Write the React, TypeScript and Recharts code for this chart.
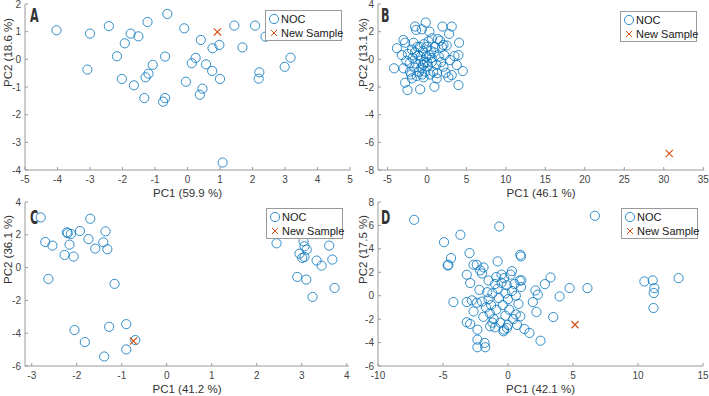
import { ScatterChart, Scatter, XAxis, YAxis, Legend } from "recharts";

type Pt = [number, number];

// panel A
const nocA: Pt[] = [
  [-4.03, 1.05], [-3.0, 0.93], [-2.42, 1.2], [-3.08, -0.37], [-1.75, 0.93], [-1.51, 0.83],
  [-1.93, 0.58], [-1.23, 1.35], [-0.62, 1.64], [-2.17, 0.11], [-0.69, 0.1], [-1.07, -0.2],
  [-1.2, -0.52], [-1.29, -0.65], [-2.02, -0.71], [-1.65, -0.94], [-1.33, -1.4], [-0.69, -1.4],
  [-0.75, -1.53], [-0.1, 1.12], [0.41, 0.7], [0.25, 0.05], [0.13, -0.14], [0.57, -0.18],
  [0.76, -0.42], [0.77, 0.4], [0.98, 0.52], [1.0, -0.71], [-0.05, -0.81], [0.46, -1.06],
  [0.38, -1.28], [1.44, 1.22], [2.08, 1.22], [1.69, 0.43], [2.4, 0.82], [2.21, -0.47],
  [2.19, -0.7], [2.99, -0.27], [3.17, 0.06], [1.08, -3.73],
];
const newA: Pt[] = [[0.92, 0.99]];

// panel B
const nocB: Pt[] = [
  [-4.16, -0.65], [-3.8, 0.8], [-2.97, 1.4], [-2.76, 1.2], [-3.19, 0.31], [-2.97, -0.65],
  [-2.76, -1.69], [-2.46, -2.22], [-1.5, 2.37], [-1.37, 2.13], [-0.15, 2.66], [-0.65, 2.17],
  [0.32, 2.0], [1.96, 2.37], [3.14, 2.37], [2.81, 1.84], [1.37, 1.47], [1.67, 1.35],
  [0.61, 1.52], [2.09, 1.04], [4.07, 1.2], [3.99, 0.31], [3.48, 0.24], [2.93, -0.05],
  [3.78, -0.41], [4.54, -0.85], [3.99, -1.86], [3.14, -1.14], [2.72, -1.3], [2.38, -0.97],
  [2.09, -0.53], [1.24, -1.38], [0.95, -1.98], [-0.86, -2.17], [-0.44, -1.3], [-1.92, -1.38],
  [-2.13, -0.89], [-1.5, 0.5], [-1.2, 0.9], [-0.8, 0.2], [-0.5, 0.6], [0.0, 0.9],
  [0.3, 0.3], [-0.3, -0.2], [0.1, -0.5], [-0.7, -0.6], [-1.0, -0.9], [-1.4, -0.3],
  [-1.8, 0.1], [-2.2, -0.3], [-2.4, 0.4], [-1.9, 0.7], [0.6, -0.2], [0.9, 0.5],
  [1.2, -0.4], [1.5, 0.2], [0.8, -0.9], [0.4, -1.1], [-0.2, -0.9], [-0.6, -1.1],
  [-1.3, -1.2], [-0.9, 0.9], [-0.4, 1.1], [0.2, 1.3], [1.0, 0.9], [1.8, -0.2],
  [2.2, 0.3], [-2.6, -0.1], [-1.6, -0.6], [-0.1, 0.2], [0.5, 0.6], [-0.5, -0.4],
  [-1.1, 0.3], [0.0, -0.2], [1.3, -1.0], [-2.0, -1.1], [-1.7, 1.2], [2.5, 1.0],
  [1.9, 0.9], [-0.8, -0.1], [0.6, 0.1],
];
const newB: Pt[] = [[30.7, -6.81]];

// panel C
const nocC: Pt[] = [
  [-2.8, 3.06], [-2.7, 1.56], [-2.54, 1.34], [-2.63, -0.69], [-2.22, 2.15], [-2.2, 2.1],
  [-2.13, 2.05], [-2.16, 1.4], [-2.27, 0.77], [-2.07, 0.67], [-1.93, 2.23], [-1.7, 2.98],
  [-1.74, 1.74], [-1.59, 1.16], [-1.41, 1.54], [-1.36, 2.21], [-1.32, 1.12], [-1.16, -0.99],
  [-2.05, -3.81], [-1.82, -4.54], [-1.28, -3.61], [-0.9, -3.45], [-0.9, -4.99], [-1.39, -5.42],
  [-0.7, -4.42], [2.44, 1.48], [3.04, 1.6], [3.06, 1.3], [3.11, 1.1], [2.95, 0.85],
  [3.01, 0.59], [3.06, 0.65], [2.9, -0.57], [3.1, -0.73], [3.33, 0.43], [3.44, 0.12],
  [3.61, 1.34], [3.68, 0.49], [3.73, -1.24], [3.24, -1.79],
];
const newC: Pt[] = [[-0.74, -4.48]];

// panel D
const nocD: Pt[] = [
  [-7.22, 6.48], [-4.92, 4.57], [-3.66, 5.2], [-4.38, 3.21], [-4.59, 2.64], [-4.64, 2.58],
  [-4.2, -0.54], [-0.67, 5.91], [6.68, 6.82], [-2.96, 3.64], [-3.17, 1.79], [-2.91, 1.08],
  [-2.65, 2.64], [-2.4, 2.64], [-2.14, 2.16], [-1.88, 2.41], [-0.8, 2.93], [0.95, 3.49],
  [1.0, 3.35], [1.03, 1.31], [1.0, 0.74], [2.11, 0.45], [2.29, 0.09], [2.84, 0.99],
  [3.27, 1.56], [3.97, -0.06], [4.74, 0.65], [6.11, 0.65], [1.91, -0.54], [2.19, -1.39],
  [3.48, -1.82], [1.26, -2.84], [1.65, -3.18], [2.5, -3.84], [0.95, -1.76], [-2.35, -3.75],
  [-1.8, -4.03], [-1.75, -4.4], [-2.35, -4.4], [-3.17, -2.27], [-2.91, -2.41], [-2.35, -2.9],
  [10.49, 1.22], [11.13, 1.31], [11.26, 0.65], [11.21, 0.23], [11.19, -1.05], [13.12, 1.5],
  [-3.17, -0.54], [-2.78, -0.4], [-2.65, -1.34], [-0.34, -3.04], [-0.08, -2.76], [-1.37, -2.61],
  [-2.0, -0.5], [-1.5, -0.3], [-1.2, 0.2], [-0.8, 0.6], [-0.5, 1.1], [-0.3, 1.5],
  [0.2, 1.8], [0.5, 1.0], [0.3, 0.4], [0.0, -0.3], [-0.4, -0.8], [-0.9, -1.2],
  [-1.4, -1.5], [-1.7, -1.0], [-1.1, -2.0], [-0.6, -2.3], [0.0, -2.5], [0.4, -2.0],
  [0.6, -1.6], [0.8, -0.7], [-0.2, 0.2], [-1.0, 1.0], [-1.5, 1.3], [-2.2, 0.5],
  [-0.7, -0.2], [0.1, -1.2], [-1.9, -1.8], [-1.3, -0.8], [-0.5, 1.8], [-1.6, 0.3],
  [0.6, 0.0], [-0.2, -1.7], [-1.0, -2.7], [-2.4, -0.6], [0.7, -2.5], [-0.9, 1.6],
  [0.3, 2.1], [-1.2, -2.3], [-0.1, 0.9], [0.9, 1.3], [-2.0, 1.9], [-0.3, -2.9],
];
const newD: Pt[] = [[5.15, -2.47]];

const ticksAX = [-5, -4, -3, -2, -1, 0, 1, 2, 3, 4, 5];
const ticksAY = [-4, -3, -2, -1, 0, 1, 2];
const ticksBX = [-5, 0, 5, 10, 15, 20, 25, 30, 35];
const ticksBY = [-8, -6, -4, -2, 0, 2, 4];
const ticksCX = [-3, -2, -1, 0, 1, 2, 3, 4];
const ticksCY = [-6, -4, -2, 0, 2, 4];
const ticksDX = [-10, -5, 0, 5, 10, 15];
const ticksDY = [-6, -4, -2, 0, 2, 4, 6, 8];

const BLUE = "#0072BD";
const ORANGE = "#D95319";
const AXIS = "#9a9a9a";
const TEXT = "#444";
const FONT = "'Liberation Sans', Arial, sans-serif";

const toXY = (pts: Pt[]) => pts.map(([x, y]) => ({ x, y }));

function Ring(p: any) {
  return <circle cx={p.cx} cy={p.cy} r={4.6} fill="none" stroke={BLUE} strokeWidth={0.8} />;
}

function Cross(p: any) {
  const s = 3.6;
  return (
    <g stroke={ORANGE} strokeWidth={1.2}>
      <line x1={p.cx - s} y1={p.cy - s} x2={p.cx + s} y2={p.cy + s} />
      <line x1={p.cx - s} y1={p.cy + s} x2={p.cx + s} y2={p.cy - s} />
    </g>
  );
}

function LegendBox() {
  const row = { display: "flex", alignItems: "center", height: 14, whiteSpace: "nowrap" } as const;
  return (
    <div
      style={{
        border: `1px solid ${AXIS}`,
        background: "#fff",
        width: 77,
        height: 31,
        boxSizing: "border-box",
        padding: "1px 0",
        fontFamily: FONT,
        fontSize: 11,
        lineHeight: "14px",
        color: "#1a1a1a",
        whiteSpace: "nowrap",
      }}
    >
      <div style={row}>
        <svg width={14} height={14} style={{ flex: "none" }}>
          <circle cx={8} cy={7} r={4.6} fill="none" stroke={BLUE} strokeWidth={0.8} />
        </svg>
        <span style={{ marginLeft: 1 }}>NOC</span>
      </div>
      <div style={row}>
        <svg width={14} height={14} style={{ flex: "none" }}>
          <g stroke={ORANGE} strokeWidth={1}>
            <line x1={5} y1={4} x2={11} y2={10} />
            <line x1={5} y1={10} x2={11} y2={4} />
          </g>
        </svg>
        <span style={{ marginLeft: 1 }}>New Sample</span>
      </div>
    </div>
  );
}

type PanelProps = {
  left: number;
  top: number;
  width: number;
  height: number;
  letter: string;
  noc: Pt[];
  sample: Pt[];
  xDomain: [number, number];
  yDomain: [number, number];
  xTicks: number[];
  yTicks: number[];
  xLabel: string;
  yLabel: string;
  yAxisWidth: number;
  marginTop: number;
  marginRight: number;
  legendLeft: number;
  legendTop: number;
  letterLeft: number;
  letterTop: number;
};

// every panel is 200px tall with the plot bottom at 170
function Panel(p: PanelProps) {
  return (
    <div style={{ position: "absolute", left: p.left, top: p.top, width: p.width, height: 200 }}>
      <ScatterChart
        width={p.width}
        height={200}
        margin={{ top: p.marginTop, right: p.marginRight, bottom: 0, left: 0 }}
      >
        <XAxis
          dataKey="x"
          type="number"
          domain={p.xDomain}
          ticks={p.xTicks}
          interval={0}
          allowDataOverflow
          height={30}
          stroke={AXIS}
          tickSize={-3}
          tickMargin={9}
          tick={{ fill: TEXT, fontSize: 10, fontFamily: FONT }}
          label={{
            value: p.xLabel,
            position: "insideBottom",
            offset: 3,
            fill: "#333",
            fontSize: 11.5,
            fontFamily: FONT,
          }}
        />
        <YAxis
          dataKey="y"
          type="number"
          domain={p.yDomain}
          ticks={p.yTicks}
          interval={0}
          allowDataOverflow
          width={p.yAxisWidth}
          stroke={AXIS}
          tickSize={-3}
          tickMargin={7}
          tick={{ fill: TEXT, fontSize: 10, fontFamily: FONT }}
          label={{
            value: p.yLabel,
            position: "insideLeft",
            angle: -90,
            offset: 8,
            fill: "#333",
            fontSize: 11.5,
            fontFamily: FONT,
          }}
        />
        <XAxis
          xAxisId="top"
          orientation="top"
          type="number"
          domain={p.xDomain}
          ticks={p.xTicks}
          interval={0}
          height={0}
          stroke={AXIS}
          tickSize={-3}
          tick={false}
        />
        <YAxis
          yAxisId="right"
          orientation="right"
          type="number"
          domain={p.yDomain}
          ticks={p.yTicks}
          interval={0}
          width={0}
          stroke={AXIS}
          tickSize={-3}
          tick={false}
        />
        <Scatter name="NOC" data={toXY(p.noc)} shape={Ring} isAnimationActive={false} />
        <Scatter name="New Sample" data={toXY(p.sample)} shape={Cross} isAnimationActive={false} />
        <Legend
          layout="vertical"
          align="center"
          verticalAlign="middle"
          content={() => <LegendBox />}
          wrapperStyle={{ left: p.legendLeft, top: p.legendTop, width: 77 }}
        />
      </ScatterChart>
      <div
        style={{
          position: "absolute",
          left: p.letterLeft,
          top: p.letterTop,
          fontFamily: "'DejaVu Sans Condensed', 'DejaVu Sans', sans-serif",
          fontWeight: 700,
          fontSize: 20,
          lineHeight: "20px",
          color: "#333",
          transform: "scaleX(0.62)",
          transformOrigin: "left top",
        }}
      >
        {p.letter}
      </div>
    </div>
  );
}

export default function App() {
  return (
    <div style={{ position: "absolute", left: 0, top: 0, width: 709, height: 396, background: "#fff", overflow: "hidden" }}>
      <Panel
        left={0} top={0} width={355} letter="A"
        noc={nocA} sample={newA}
        xDomain={[-5, 5]} yDomain={[-4, 2]} xTicks={ticksAX} yTicks={ticksAY}
        xLabel="PC1 (59.9 %)" yLabel="PC2 (18.6 %)"
        yAxisWidth={25} marginTop={4} marginRight={5}
        legendLeft={265} legendTop={10} letterLeft={30} letterTop={5}
      />
      <Panel
        left={355} top={0} width={354} letter="B"
        noc={nocB} sample={newB}
        xDomain={[-6.2, 35.1]} yDomain={[-8, 4]} xTicks={ticksBX} yTicks={ticksBY}
        xLabel="PC1 (46.1 %)" yLabel="PC2 (13.1 %)"
        yAxisWidth={23} marginTop={4} marginRight={5}
        legendLeft={265} legendTop={11} letterLeft={26} letterTop={5}
      />
      <Panel
        left={0} top={196} width={355} letter="C"
        noc={nocC} sample={newC}
        xDomain={[-3.15, 4.05]} yDomain={[-6, 4]} xTicks={ticksCX} yTicks={ticksCY}
        xLabel="PC1 (41.2 %)" yLabel="PC2 (36.1 %)"
        yAxisWidth={25} marginTop={6} marginRight={6}
        legendLeft={266} legendTop={12} letterLeft={30} letterTop={11}
      />
      <Panel
        left={355} top={196} width={354} letter="D"
        noc={nocD} sample={newD}
        xDomain={[-10, 15]} yDomain={[-6, 8]} xTicks={ticksDX} yTicks={ticksDY}
        xLabel="PC1 (42.1 %)" yLabel="PC2 (17.5 %)"
        yAxisWidth={23} marginTop={6} marginRight={6}
        legendLeft={266} legendTop={12} letterLeft={26} letterTop={11}
      />
    </div>
  );
}
